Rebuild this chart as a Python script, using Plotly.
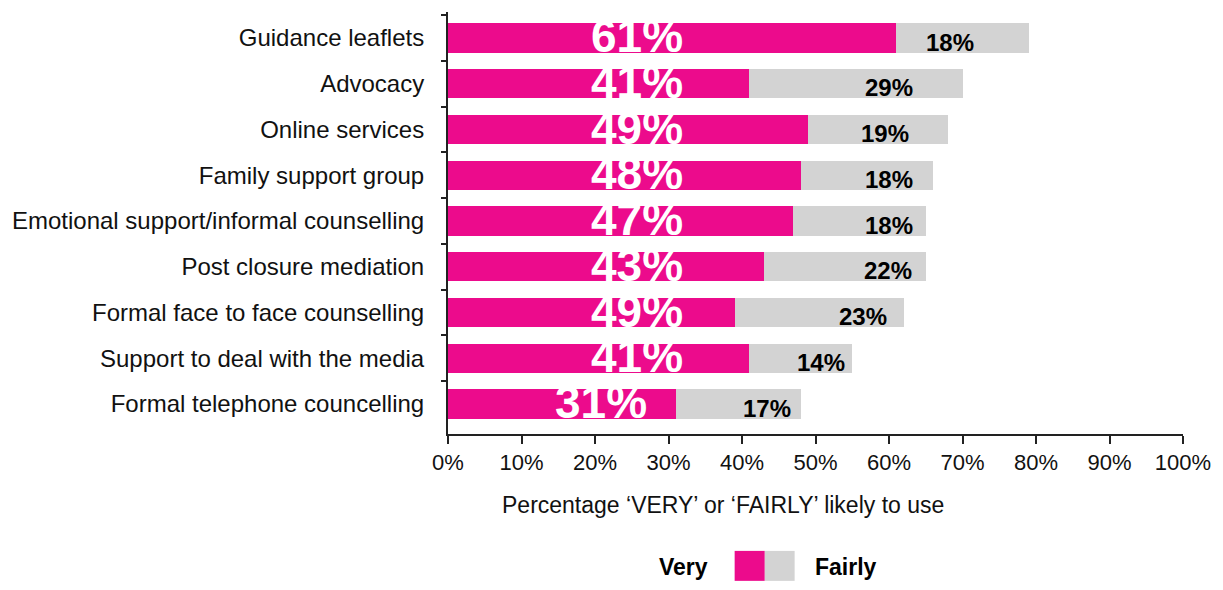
import plotly.graph_objects as go

categories = [
    "Guidance leaflets",
    "Advocacy",
    "Online services",
    "Family support group",
    "Emotional support/informal counselling",
    "Post closure mediation",
    "Formal face to face counselling",
    "Support to deal with the media",
    "Formal telephone councelling",
]
very_values = [61, 41, 49, 48, 47, 43, 39, 41, 31]
fairly_values = [18, 29, 19, 18, 18, 22, 23, 14, 17]
very_labels = ["61%", "41%", "49%", "48%", "47%", "43%", "49%", "41%", "31%"]
fairly_labels = ["18%", "29%", "19%", "18%", "18%", "22%", "23%", "14%", "17%"]
x_ticks = [0, 10, 20, 30, 40, 50, 60, 70, 80, 90, 100]
x_tick_labels = [f"{v}%" for v in x_ticks]

# label placement (layout constants, in axis units)
very_label_x = [25.7, 25.7, 25.7, 25.7, 25.7, 25.7, 25.7, 25.7, 20.8]
fairly_label_x = [68.3, 60.0, 59.4, 60.0, 60.0, 59.8, 56.5, 50.7, 43.4]

MAGENTA = "#EC0B8C"
GREY = "#D3D3D3"
REG = "Liberation Sans, Arial, sans-serif"

fig = go.Figure()
fig.add_trace(go.Bar(y=categories, x=very_values, orientation="h",
                     marker=dict(color=MAGENTA, line=dict(width=0)), name="Very"))
fig.add_trace(go.Bar(y=categories, x=fairly_values, orientation="h",
                     marker=dict(color=GREY, line=dict(width=0)), name="Fairly"))

annotations = []
for i, c in enumerate(categories):
    annotations.append(dict(x=very_label_x[i], y=c, xref="x", yref="y",
                            text=very_labels[i], showarrow=False,
                            xanchor="center", yanchor="middle", yshift=2,
                            font=dict(family=REG, size=46, color="white", weight="bold")))
    annotations.append(dict(x=fairly_label_x[i], y=c, xref="x", yref="y",
                            text=fairly_labels[i], showarrow=False,
                            xanchor="center", yanchor="middle", yshift=-4,
                            font=dict(family=REG, size=24, color="black", weight="bold")))

# axis title
annotations.append(dict(x=0.374, y=-0.168, xref="paper", yref="paper",
                        text="Percentage \u2018VERY\u2019 or \u2018FAIRLY\u2019 likely to use",
                        showarrow=False, xanchor="center", yanchor="middle",
                        font=dict(family=REG, size=23, color="#111")))
# custom legend
annotations.append(dict(x=0.321, y=-0.314, xref="paper", yref="paper", text="Very",
                        showarrow=False, xanchor="center", yanchor="middle",
                        font=dict(family=REG, size=23, color="black", weight="bold")))
annotations.append(dict(x=0.542, y=-0.314, xref="paper", yref="paper", text="Fairly",
                        showarrow=False, xanchor="center", yanchor="middle",
                        font=dict(family=REG, size=23, color="black", weight="bold")))

shapes = [
    dict(type="rect", xref="paper", yref="paper", x0=0.390, x1=0.431, y0=-0.348, y1=-0.277,
         fillcolor=MAGENTA, line=dict(width=0)),
    dict(type="rect", xref="paper", yref="paper", x0=0.431, x1=0.4716, y0=-0.348, y1=-0.277,
         fillcolor=GREY, line=dict(width=0)),
]

fig.update_layout(
    barmode="stack",
    bargap=0.36,
    width=1207, height=574,
    margin=dict(l=437, r=32, t=4, b=148),
    plot_bgcolor="white", paper_bgcolor="white",
    showlegend=False,
    annotations=annotations,
    shapes=shapes,
    xaxis=dict(range=[0, 100], tickvals=x_ticks, ticktext=x_tick_labels,
               showgrid=False, zeroline=False, showline=True, linecolor="#222", linewidth=2,
               ticks="outside", ticklen=8, tickwidth=2, tickcolor="#222",
               tickfont=dict(family=REG, size=22, color="#111")),
    yaxis=dict(autorange="reversed", type="category", showgrid=False, zeroline=False,
               showline=True, linecolor="#222", linewidth=2,
               ticks="outside", ticklen=5, tickwidth=2, tickcolor="#222",
               tickson="boundaries", ticklabelstandoff=17,
               tickfont=dict(family=REG, size=24, color="#111")),
)

fig.write_html("out.html")
